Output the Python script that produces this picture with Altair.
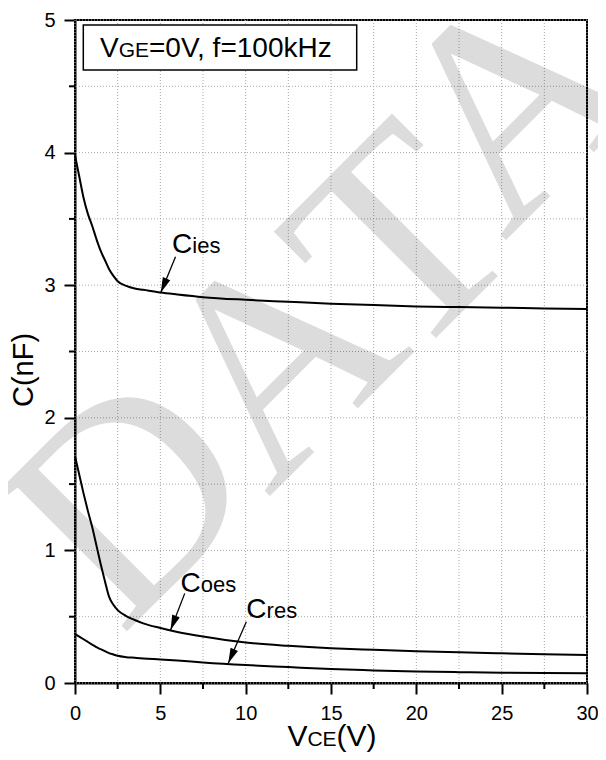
import altair as alt
import pandas as pd
import numpy as np

# ---------------- data ----------------
vce = [0, 0.25, 0.5, 0.75, 1.0, 1.25, 1.5, 1.75, 2.0, 2.25, 2.5, 3.0, 3.5, 4, 5, 6,
       7.5, 10, 12.5, 15, 17.5, 20, 22.5, 25, 27.5, 30]
cies = [3.98, 3.82, 3.66, 3.54, 3.45, 3.35, 3.26, 3.19, 3.12, 3.07, 3.03, 2.995, 2.975,
        2.965, 2.945, 2.93, 2.91, 2.89, 2.875, 2.86, 2.85, 2.84, 2.835, 2.83, 2.825, 2.82]
coes = [1.71, 1.57, 1.43, 1.30, 1.18, 1.04, 0.90, 0.77, 0.65, 0.59, 0.55, 0.505, 0.475,
        0.45, 0.415, 0.385, 0.35, 0.305, 0.28, 0.262, 0.25, 0.24, 0.232, 0.224, 0.217, 0.211]
cres = [0.37, 0.35, 0.33, 0.31, 0.29, 0.27, 0.255, 0.24, 0.225, 0.215, 0.205, 0.195, 0.19,
        0.185, 0.178, 0.17, 0.155, 0.135, 0.12, 0.105, 0.095, 0.087, 0.082, 0.078, 0.075, 0.073]

series_names = ["Cies", "Coes", "Cres"]
label_sub = ["ies", "oes", "res"]
label_x = [5.69, 6.18, 10.04]
label_y = [3.24, 0.689, 0.488]
arrow_tail_x = [5.89, 6.43, 10.04]
arrow_tail_y = [3.215, 0.676, 0.462]
arrow_head_x = [5.03, 5.60, 8.98]
arrow_head_y = [2.945, 0.40, 0.149]

x_major = [0, 5, 10, 15, 20, 25, 30]
x_minor = [2.5, 7.5, 12.5, 17.5, 22.5, 27.5]
y_major = [0, 1, 2, 3, 4, 5]
y_minor = [0.5, 1.5, 2.5, 3.5, 4.5]

legend_parts = ["V", "GE", "=0V, f=100kHz"]
xtitle_parts = ["V", "CE", "(V)"]
ytitle = "C(nF)"
watermark_letters = ["D", "A", "T", "A"]

# ---------------- layout ----------------
W, H = 512, 663
FONT = "Liberation Sans"

rows = []
for name, vals in zip(series_names, [cies, coes, cres]):
    for xv, yv in zip(vce, vals):
        rows.append({"VCE": xv, "C": yv, "series": name})
df = pd.DataFrame(rows)

xs = alt.Scale(domain=[0, 30], nice=False, zero=False)
ys = alt.Scale(domain=[0, 5], nice=False, zero=False)

common_axis = dict(
    title="", grid=False, format="d",
    domainColor="black", domainWidth=2, ticks=True, tickSize=11, tickColor="black",
    tickWidth=2, labelFontSize=20, labelFont=FONT, labelColor="black", labelPadding=9,
    labelFlush=False, labelOverlap=False,
)
x_axis = alt.Axis(values=x_major, **common_axis)
y_axis = alt.Axis(values=y_major, **common_axis)

def X(field):
    return alt.X(field, scale=xs, axis=x_axis)

def Y(field):
    return alt.Y(field, scale=ys, axis=y_axis)

# dotted grid at every major and minor tick
grid_style = dict(color="#a8a8a8", strokeWidth=1, strokeDash=[1, 2])
grid_layers = [
    alt.Chart(pd.DataFrame({"v": sorted(x_major + x_minor)})).mark_rule(**grid_style).encode(x=X("v:Q")),
    alt.Chart(pd.DataFrame({"v": sorted(y_major + y_minor)})).mark_rule(**grid_style).encode(y=Y("v:Q")),
]

# watermark letters (pixel placement of a page decoration)
wm_pos = [(120, 543), (267, 404), (392, 287), (503, 148)]
wm_layers = []
for letter, (px, py) in zip(watermark_letters, wm_pos):
    wm_layers.append(
        alt.Chart(pd.DataFrame({"t": [letter]})).mark_text(
            font="Liberation Serif", fontSize=290, angle=315, align="center",
            baseline="alphabetic", color="black", opacity=0.135
        ).encode(text="t:N", x=alt.value(px), y=alt.value(py))
    )

lines = alt.Chart(df).mark_line(color="black", strokeWidth=2, interpolate="monotone").encode(
    x=X("VCE:Q"), y=Y("C:Q"), detail="series:N",
)

# outward minor tick marks
minor_ticks = [
    alt.Chart(pd.DataFrame({"v": x_minor})).mark_rule(color="black", strokeWidth=2).encode(
        x=X("v:Q"), y=alt.value(H), y2=alt.value(H + 6)),
    alt.Chart(pd.DataFrame({"v": y_minor})).mark_rule(color="black", strokeWidth=2).encode(
        y=Y("v:Q"), x=alt.value(0), x2=alt.value(-6)),
]

# legend box
box = alt.Chart(pd.DataFrame({"a": [0]})).mark_rect(
    fill="white", stroke="black", strokeWidth=1.5
).encode(x=alt.value(8.3), x2=alt.value(281.7), y=alt.value(5), y2=alt.value(50))

legend_widths = [0.667 * 28, 1.445 * 21]
leg_x0 = 25
offs = [leg_x0, leg_x0 + legend_widths[0], leg_x0 + legend_widths[0] + legend_widths[1]]
leg_layers = []
for txt, sz, xo in zip(legend_parts, [28, 21, 28], offs):
    leg_layers.append(
        alt.Chart(pd.DataFrame({"t": [txt]})).mark_text(
            font=FONT, fontSize=sz, align="left", baseline="alphabetic", color="black"
        ).encode(text="t:N", x=alt.value(xo), y=alt.value(36.7))
    )

# annotations
ann = pd.DataFrame({
    "lx": label_x, "ly": label_y, "big": ["C"] * 3, "sub": label_sub,
    "tx": arrow_tail_x, "ty": arrow_tail_y, "hx": arrow_head_x, "hy": arrow_head_y,
})
vx = (ann["hx"] - ann["tx"]) * W / 30.0
vy = -(ann["hy"] - ann["ty"]) * H / 5.0
ann["ang"] = (np.degrees(np.arctan2(vx, -vy)) + 360) % 360

lab_big = alt.Chart(ann).mark_text(
    font=FONT, fontSize=28, align="left", baseline="alphabetic", color="black"
).encode(x=X("lx:Q"), y=Y("ly:Q"), text="big:N")
lab_sub = alt.Chart(ann).mark_text(
    font=FONT, fontSize=22, align="left", baseline="alphabetic", color="black", dx=0.722 * 28
).encode(x=X("lx:Q"), y=Y("ly:Q"), text="sub:N")

shafts = alt.Chart(ann).mark_rule(color="black", strokeWidth=1.3).encode(
    x=X("tx:Q"), y=Y("ty:Q"), x2="hx:Q", y2="hy:Q",
)
heads = alt.Chart(ann).mark_point(
    shape="M0,0 L-0.27,1 L0.27,1 Z", filled=True, color="black", opacity=1, size=900, strokeWidth=0
).encode(
    x=X("hx:Q"), y=Y("hy:Q"), angle=alt.Angle("ang:Q", scale=None),
)

# axis titles as text
xt_w = [0.667 * 30, 1.389 * 21]
xt_x0 = 257 - (xt_w[0] + xt_w[1] + 1.333 * 30) / 2
xt_offs = [xt_x0, xt_x0 + xt_w[0], xt_x0 + xt_w[0] + xt_w[1]]
xt_layers = []
for txt, sz, xo in zip(xtitle_parts, [30, 21, 30], xt_offs):
    xt_layers.append(
        alt.Chart(pd.DataFrame({"t": [txt]})).mark_text(
            font=FONT, fontSize=sz, align="left", baseline="alphabetic", color="black"
        ).encode(text="t:N", x=alt.value(xo), y=alt.value(726))
    )
yt = alt.Chart(pd.DataFrame({"t": [ytitle]})).mark_text(
    font=FONT, fontSize=29, angle=270, align="center", baseline="alphabetic", color="black"
).encode(text="t:N", x=alt.value(-42), y=alt.value(350))

chart = alt.layer(
    *grid_layers, *wm_layers, lines, *minor_ticks, box, *leg_layers, shafts, heads,
    lab_big, lab_sub, *xt_layers, yt
).properties(
    width=W, height=H,
    autosize=alt.AutoSizeParams(type="none"),
    padding={"left": 67, "top": 12, "right": 11, "bottom": 69},
    background="white",
).configure_view(stroke="black", strokeWidth=2)

chart.save("out.html", embed_options={"renderer": "svg", "actions": False})
